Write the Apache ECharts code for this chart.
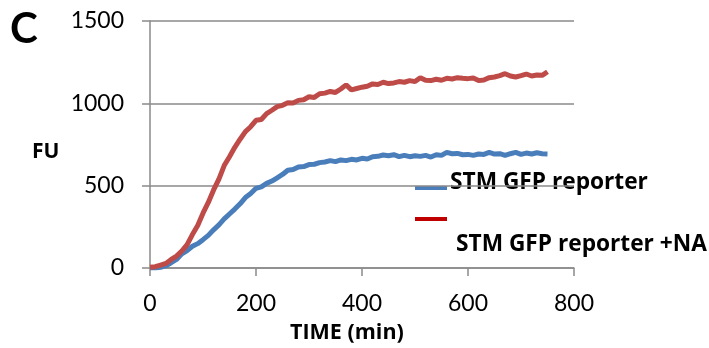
<!DOCTYPE html>
<html>
<head>
<meta charset="utf-8">
<script src="https://cdn.jsdelivr.net/npm/echarts@6/dist/echarts.min.js"></script>
<style>html,body{margin:0;padding:0;background:#fff;}#c{width:709px;height:348px;}</style>
</head>
<body>
<div id="c"></div>
<script>
var timeMin = [0,10,20,30,40,50,60,70,80,90,100,110,120,130,140,150,160,170,180,190,200,210,220,230,240,250,260,270,280,290,300,310,320,330,340,350,360,370,380,390,400,410,420,430,440,450,460,470,480,490,500,510,520,530,540,550,560,570,580,590,600,610,620,630,640,650,660,670,680,690,700,710,720,730,740,750];
var stmGfp = [0,0,4,14,32,52,86,106,132,148,172,198,232,262,298,328,358,390,428,452,484,493,514,528,548,568,594,598,614,616,628,630,640,644,652,646,656,652,660,656,666,662,676,678,686,682,688,676,684,676,682,678,684,674,688,684,702,694,696,688,690,684,692,690,702,692,694,684,694,702,690,698,692,700,694,693];
var stmGfpNA = [5,8,18,28,52,72,103,142,203,258,333,398,474,540,622,676,733,782,828,858,897,902,938,958,980,988,1004,1002,1018,1022,1040,1036,1058,1062,1072,1066,1087,1112,1082,1090,1098,1104,1118,1114,1128,1120,1124,1132,1128,1138,1132,1156,1140,1138,1146,1140,1152,1148,1156,1152,1150,1154,1138,1142,1156,1160,1168,1180,1166,1160,1168,1178,1166,1172,1170,1192];
var yTicks = [0,500,1000,1500];
var xTicks = [0,200,400,600,800];
var seriesNames = ['STM GFP reporter','STM GFP reporter +NA'];

function pairs(xs, ys){ return xs.map(function(x,i){ return [x, ys[i]]; }); }

var TICKFONT = 'Lato';
var BOLDFONT = '"Open Sans"';
var chart = echarts.init(document.getElementById('c'), null, {renderer:'canvas'});
chart.setOption({
  animation:false,
  backgroundColor:'#ffffff',
  grid:{left:150,right:135,top:21,bottom:80,containLabel:false},
  xAxis:{
    type:'value', min:xTicks[0], max:xTicks[xTicks.length-1], interval:200,
    axisLine:{show:true,lineStyle:{color:'#8a8a8a',width:1.5}},
    axisTick:{show:true,length:8,lineStyle:{color:'#8a8a8a',width:1.5}},
    axisLabel:{margin:24,fontFamily:TICKFONT,fontSize:23,color:'#000',formatter:function(v){return String(v);}},
    splitLine:{show:false}
  },
  yAxis:{
    type:'value', min:yTicks[0], max:yTicks[yTicks.length-1], interval:500,
    axisLine:{show:true,lineStyle:{color:'#8a8a8a',width:1.5}},
    axisTick:{show:true,length:8,lineStyle:{color:'#8a8a8a',width:1.5}},
    axisLabel:{margin:26,fontFamily:TICKFONT,fontSize:23,color:'#000',formatter:function(v){return String(v);}},
    splitLine:{show:true,lineStyle:{color:'#8a8a8a',width:1.5}}
  },
  series:[
    {name:seriesNames[0],type:'line',data:pairs(timeMin,stmGfp),showSymbol:false,
     lineStyle:{color:'#4a7ebb',width:5},itemStyle:{color:'#4a7ebb'}},
    {name:seriesNames[1],type:'line',data:pairs(timeMin,stmGfpNA),showSymbol:false,
     lineStyle:{color:'#be4b48',width:5},itemStyle:{color:'#be4b48'}}
  ],
  graphic:[
    {type:'text',left:10,top:8,style:{text:'C',font:'bold 42px Lato',fill:'#000'}},
    {type:'text',left:32,top:142,style:{text:'FU',font:'bold 21px '+BOLDFONT,fill:'#000'}},
    {type:'text',left:290,top:322,style:{text:'TIME (min)',font:'bold 21.5px '+BOLDFONT,fill:'#000'}},
    {type:'rect',shape:{x:415,y:186,width:32,height:4},style:{fill:'#4a7ebb'}},
    {type:'rect',shape:{x:415,y:217,width:32,height:4},style:{fill:'#c00000'}},
    {type:'text',left:450,top:171,style:{text:seriesNames[0],font:'bold 22.7px '+BOLDFONT,fill:'#000'}},
    {type:'text',left:456,top:233,style:{text:seriesNames[1],font:'bold 22.7px '+BOLDFONT,fill:'#000'}}
  ]
});
</script>
</body>
</html>
